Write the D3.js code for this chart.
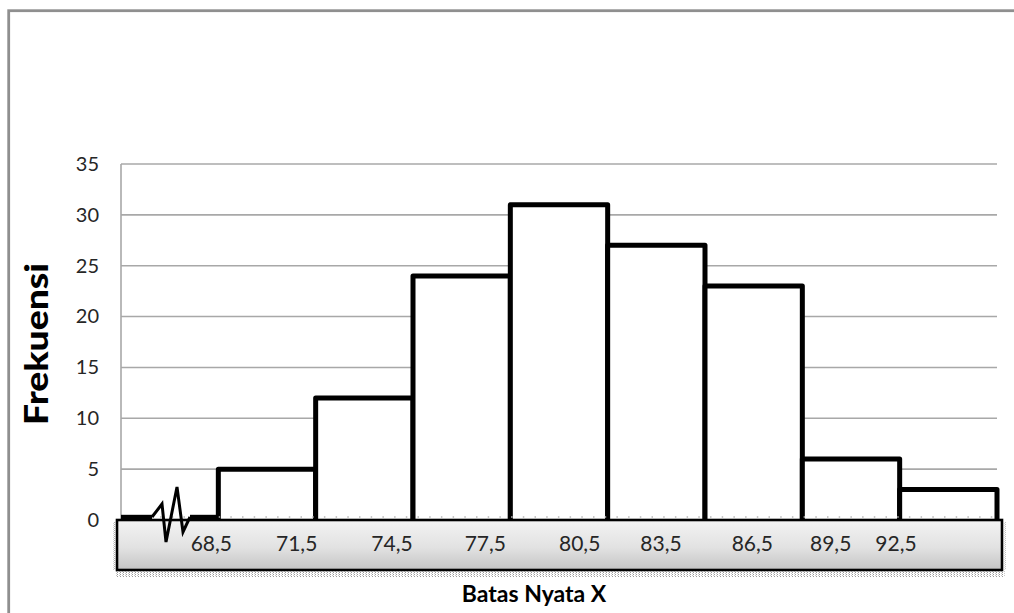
<!DOCTYPE html>
<html>
<head>
<meta charset="utf-8">
<script src="https://cdn.jsdelivr.net/npm/d3@7"></script>
<style>
  html, body { margin: 0; padding: 0; background: #ffffff; }
  svg { display: block; }
</style>
</head>
<body>
<svg id="chart" width="1014" height="613"></svg>
<script>
// ---- data ----
const boundaries = [65.5, 68.5, 71.5, 74.5, 77.5, 80.5, 83.5, 86.5, 89.5, 92.5];
const frequencies = [0, 5, 12, 24, 31, 27, 23, 6, 3];
const xTickValues = [68.5, 71.5, 74.5, 77.5, 80.5, 83.5, 86.5, 89.5, 92.5];
const xTickLabels = ["68,5", "71,5", "74,5", "77,5", "80,5", "83,5", "86,5", "89,5", "92,5"];
const yTicks = [0, 5, 10, 15, 20, 25, 30, 35];
const yTitle = "Frekuensi";
const xTitle = "Batas Nyata X";

// ---- layout / style ----
const labelNudge = [-7, -19, -21, -25, -28, -44, -50, -69, -101];
const breakShape = [[31, -3], [41, -16], [45, 22], [56, -33], [62, 12], [69, -2]];

const svg = d3.select("#chart");
const x = d3.scaleLinear().domain([65.5, 92.5]).range([121, 997]);
const y = d3.scaleLinear().domain([0, 35]).range([520, 164]);

const defs = svg.append("defs");
const grad = defs.append("linearGradient").attr("id", "boxGrad")
  .attr("x1", 0).attr("y1", 0).attr("x2", 0).attr("y2", 1);
grad.append("stop").attr("offset", "0%").attr("stop-color", "#f3f3f3");
grad.append("stop").attr("offset", "55%").attr("stop-color", "#e2e2e2");
grad.append("stop").attr("offset", "100%").attr("stop-color", "#c4c4c4");
const pat = defs.append("pattern").attr("id", "dots").attr("patternUnits", "userSpaceOnUse")
  .attr("width", 3).attr("height", 2);
pat.append("rect").attr("x", 0).attr("y", 0).attr("width", 1).attr("height", 1).attr("fill", "#9a9a9a");
pat.append("rect").attr("x", 2).attr("y", 1).attr("width", 1).attr("height", 1).attr("fill", "#c8c8c8");

svg.append("rect").attr("width", 1014).attr("height", 613).attr("fill", "#ffffff");

// outer border
svg.append("rect").attr("x", 8.7).attr("y", 10.7).attr("width", 1030).attr("height", 630)
  .attr("fill", "none").attr("stroke", "#8f8f8f").attr("stroke-width", 2.8);

// gridlines
svg.append("g").selectAll("line").data(yTicks.filter(d => d > 0)).join("line")
  .attr("x1", x(65.5)).attr("x2", x(92.5))
  .attr("y1", d => y(d)).attr("y2", d => y(d))
  .attr("stroke", "#a8a8a8").attr("stroke-width", 1.6);
svg.append("line").attr("x1", x(65.5)).attr("x2", x(65.5))
  .attr("y1", y(35)).attr("y2", y(0))
  .attr("stroke", "#a8a8a8").attr("stroke-width", 1.6);

// y axis labels
const yAxis = svg.append("g").attr("transform", `translate(${x(65.5)},0)`)
  .call(d3.axisLeft(y).tickValues(yTicks).tickSize(0).tickPadding(22));
yAxis.select(".domain").remove();
yAxis.selectAll("text").attr("font-family", "Lato, sans-serif").attr("font-size", 20).attr("fill", "#262626");

// histogram bars
const bins = frequencies.map((f, i) => ({ x0: boundaries[i], x1: boundaries[i + 1], f }));
const barG = svg.append("g");
bins.forEach((b, i) => {
  if (i === 0) return;
  const p = d3.path();
  p.moveTo(x(b.x0), y(0));
  p.lineTo(x(b.x0), y(b.f));
  p.lineTo(x(b.x1), y(b.f));
  p.lineTo(x(b.x1), y(0));
  barG.append("path").attr("d", p.toString())
    .attr("fill", "#ffffff").attr("stroke", "#000").attr("stroke-width", 5)
    .attr("stroke-linejoin", "round");
});

// minor tick dots
svg.append("line").attr("x1", x(65.5) + 4).attr("x2", x(92.5)).attr("y1", y(0) - 3).attr("y2", y(0) - 3)
  .attr("stroke", "#b8b8b8").attr("stroke-width", 1.3).attr("stroke-dasharray", "1.5 10.2");

// axis box shadow (dotted)
svg.append("rect").attr("x", 115).attr("y", 571).attr("width", 890).attr("height", 6).attr("fill", "url(#dots)");
svg.append("rect").attr("x", 112).attr("y", 522).attr("width", 4).attr("height", 48).attr("fill", "url(#dots)").attr("opacity", 0.8);
svg.append("rect").attr("x", 1003).attr("y", 522).attr("width", 3).attr("height", 48).attr("fill", "url(#dots)").attr("opacity", 0.6);

// axis box
svg.append("rect").attr("x", 117).attr("y", y(0)).attr("width", 885).attr("height", 50)
  .attr("fill", "url(#boxGrad)").attr("stroke", "#000").attr("stroke-width", 2.6);

// first (empty) bin with break symbol
const b0 = bins[0];
const baseY = y(b0.f) - 3;
const sx = x(b0.x0);
const brk = breakShape.map(([dx, dy]) => [sx + dx, y(0) + dy]);
svg.append("line").attr("x1", sx).attr("x2", brk[0][0]).attr("y1", baseY).attr("y2", baseY)
  .attr("stroke", "#000").attr("stroke-width", 4.4);
svg.append("line").attr("x1", brk[brk.length - 1][0]).attr("x2", x(b0.x1)).attr("y1", baseY).attr("y2", baseY)
  .attr("stroke", "#000").attr("stroke-width", 4.4);
svg.append("path").attr("d", d3.line()([[brk[0][0], baseY], ...brk.slice(1, -1), [brk[brk.length - 1][0], baseY]]))
  .attr("fill", "none").attr("stroke", "#000").attr("stroke-width", 3).attr("stroke-linejoin", "miter");

// x tick labels
svg.append("g").selectAll("text").data(xTickValues).join("text")
  .attr("x", (d, i) => x(d) + labelNudge[i]).attr("y", 551)
  .attr("text-anchor", "middle")
  .attr("font-family", "Lato, sans-serif").attr("font-size", 21).attr("fill", "#262626")
  .text((d, i) => xTickLabels[i]);

// titles
svg.append("text").attr("x", 534).attr("y", 602).attr("text-anchor", "middle")
  .attr("font-family", "Lato, sans-serif").attr("font-weight", "bold").attr("font-size", 23)
  .attr("fill", "#000").text(xTitle);
svg.append("text").attr("transform", "translate(48,344) rotate(-90)")
  .attr("text-anchor", "middle")
  .attr("font-family", "Lato, sans-serif").attr("font-weight", 900).attr("font-size", 32)
  .attr("textLength", 162).attr("lengthAdjust", "spacingAndGlyphs")
  .attr("fill", "#000").text(yTitle);
</script>
</body>
</html>
